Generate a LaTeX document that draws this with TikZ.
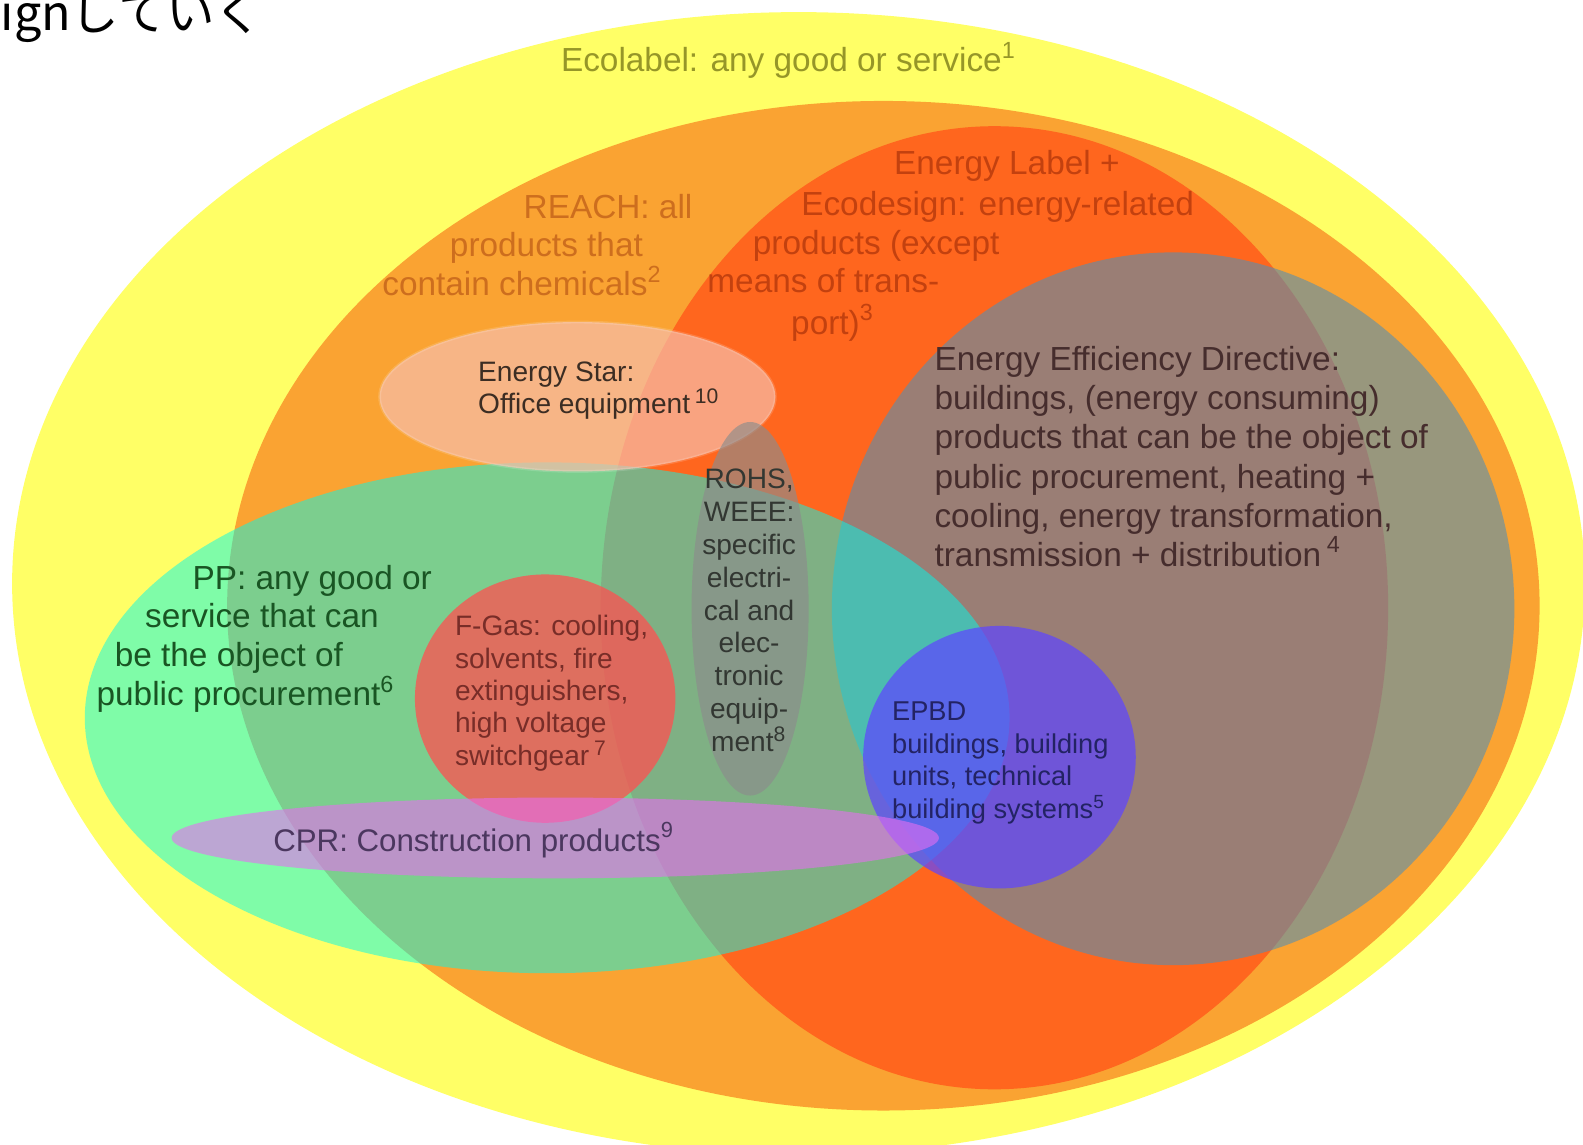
\documentclass[tikz,border=0pt]{standalone}
\usepackage{fontspec}
\setmainfont{Liberation Sans}
\newfontfamily\jpfont{Noto Sans CJK JP}
\usepackage{xcolor}
\definecolor{ecoyellow}{RGB}{255,255,102}
\definecolor{reachorange}{RGB}{250,163,50}
\definecolor{labelred}{RGB}{255,102,30}
\definecolor{eedslate}{RGB}{88,143,175}
\definecolor{ppcyan}{RGB}{0,250,235}
\definecolor{starpeach}{RGB}{247,190,171}
\definecolor{rohsgrey}{RGB}{140,140,140}
\definecolor{fgasred}{RGB}{255,80,80}
\definecolor{cprlilac}{RGB}{230,110,240}
\definecolor{epbdblue}{RGB}{95,70,255}
\definecolor{ecotext}{RGB}{150,150,40}
\definecolor{reachtext}{RGB}{205,110,30}
\definecolor{labeltext}{RGB}{195,65,15}
\definecolor{eedtext}{RGB}{70,45,45}
\definecolor{startext}{RGB}{60,45,35}
\definecolor{rohstext}{RGB}{50,55,50}
\definecolor{pptext}{RGB}{25,85,35}
\definecolor{fgastext}{RGB}{120,45,40}
\definecolor{cprtext}{RGB}{75,55,95}
\definecolor{epbdtext}{RGB}{35,35,100}

\begin{document}
\begin{tikzpicture}[x=0.010096cm, y=-0.010096cm,
  txt/.style={inner sep=0pt, anchor=base west},
  big/.style={font=\fontsize{9.5}{11.15}\selectfont},
  small/.style={font=\fontsize{8}{9.2}\selectfont}]
\useasboundingbox (0,0) rectangle (1568,1134);

\fill[ecoyellow] (791,578) ellipse [x radius=779, y radius=566];
\fill[reachorange] (875,600) ellipse [x radius=650, y radius=500];
\fill[labelred] (985,602) ellipse [x radius=390, y radius=477];
\fill[eedslate, fill opacity=0.6] (1162,603) ellipse [x radius=338, y radius=353];
\fill[ppcyan, fill opacity=0.5] (542,711) ellipse [x radius=458, y radius=253];
\filldraw[fill=starpeach, fill opacity=0.7, draw=white, draw opacity=0.15, line width=0.8pt] (572,393) ellipse [x radius=196, y radius=74];
\fill[rohsgrey, fill opacity=0.65] (743,603) ellipse [x radius=58, y radius=185];
\fill[fgasred, fill opacity=0.75] (540,692) ellipse [x radius=129, y radius=123];
\fill[epbdblue, fill opacity=0.72] (990,750) ellipse [x radius=135, y radius=130];
\fill[cprlilac, fill opacity=0.6] (550,830) ellipse [x radius=380, y radius=40];

\node[txt, font=\jpfont\fontsize{13.8}{16}\selectfont] (design) at (0,30) {ignしていく};

\node[txt, big, ecotext] (eco) at (555,71) {Ecolabel: any good or service\textsuperscript{1}};

\node[txt, big, reachtext] (reach1) at (518,216) {REACH: all};
\node[txt, big, reachtext] (reach2) at (445,254) {products that};
\node[txt, big, reachtext] (reach3) at (378,293) {contain chemicals\textsuperscript{2}};

\node[txt, big, labeltext] (label1) at (885,173) {Energy Label +};
\node[txt, big, labeltext] (label2) at (793,213) {Ecodesign: energy-related};
\node[txt, big, labeltext] (label3) at (745,252) {products (except};
\node[txt, big, labeltext] (label4) at (700,290) {means of trans-};
\node[txt, big, labeltext] (label5) at (783,331) {port)\textsuperscript{3}};

\node[txt, big, eedtext, align=left] (eed) at (925,561)
  {Energy Efficiency Directive:\\buildings, (energy consuming)\\products that can be the object of\\public procurement, heating +\\cooling, energy transformation,\\transmission + distribution\,\textsuperscript{4}};

\node[txt, small, startext, align=left] (star) at (473,410)
  {Energy Star:\\Office equipment\,\textsuperscript{10}};

\node[inner sep=0pt, anchor=base, rohstext, align=center, font=\fontsize{8}{9.33}\selectfont] (rohs) at (742,744)
  {ROHS,\\WEEE:\\specific\\electri-\\cal and\\elec-\\tronic\\equip-\\ment\textsuperscript{8}};

\node[txt, big, pptext] (pp1) at (190,584) {PP: any good or};
\node[txt, big, pptext] (pp2) at (143,622) {service that can};
\node[txt, big, pptext] (pp3) at (113,660) {be the object of};
\node[txt, big, pptext] (pp4) at (95,699) {public procurement\textsuperscript{6}};

\node[txt, small, fgastext, align=left] (fgas) at (450,758)
  {F-Gas: cooling,\\solvents, fire\\extinguishers,\\high voltage\\switchgear\,\textsuperscript{7}};

\node[txt, cprtext, font=\fontsize{8.9}{10}\selectfont] (cpr) at (270,843) {CPR: Construction products\textsuperscript{9}};

\node[txt, epbdtext, align=left, font=\fontsize{7.75}{9.33}\selectfont] (epbd) at (883,811)
  {EPBD\\buildings, building\\units, technical\\building systems\textsuperscript{5}};
\end{tikzpicture}
\end{document}
